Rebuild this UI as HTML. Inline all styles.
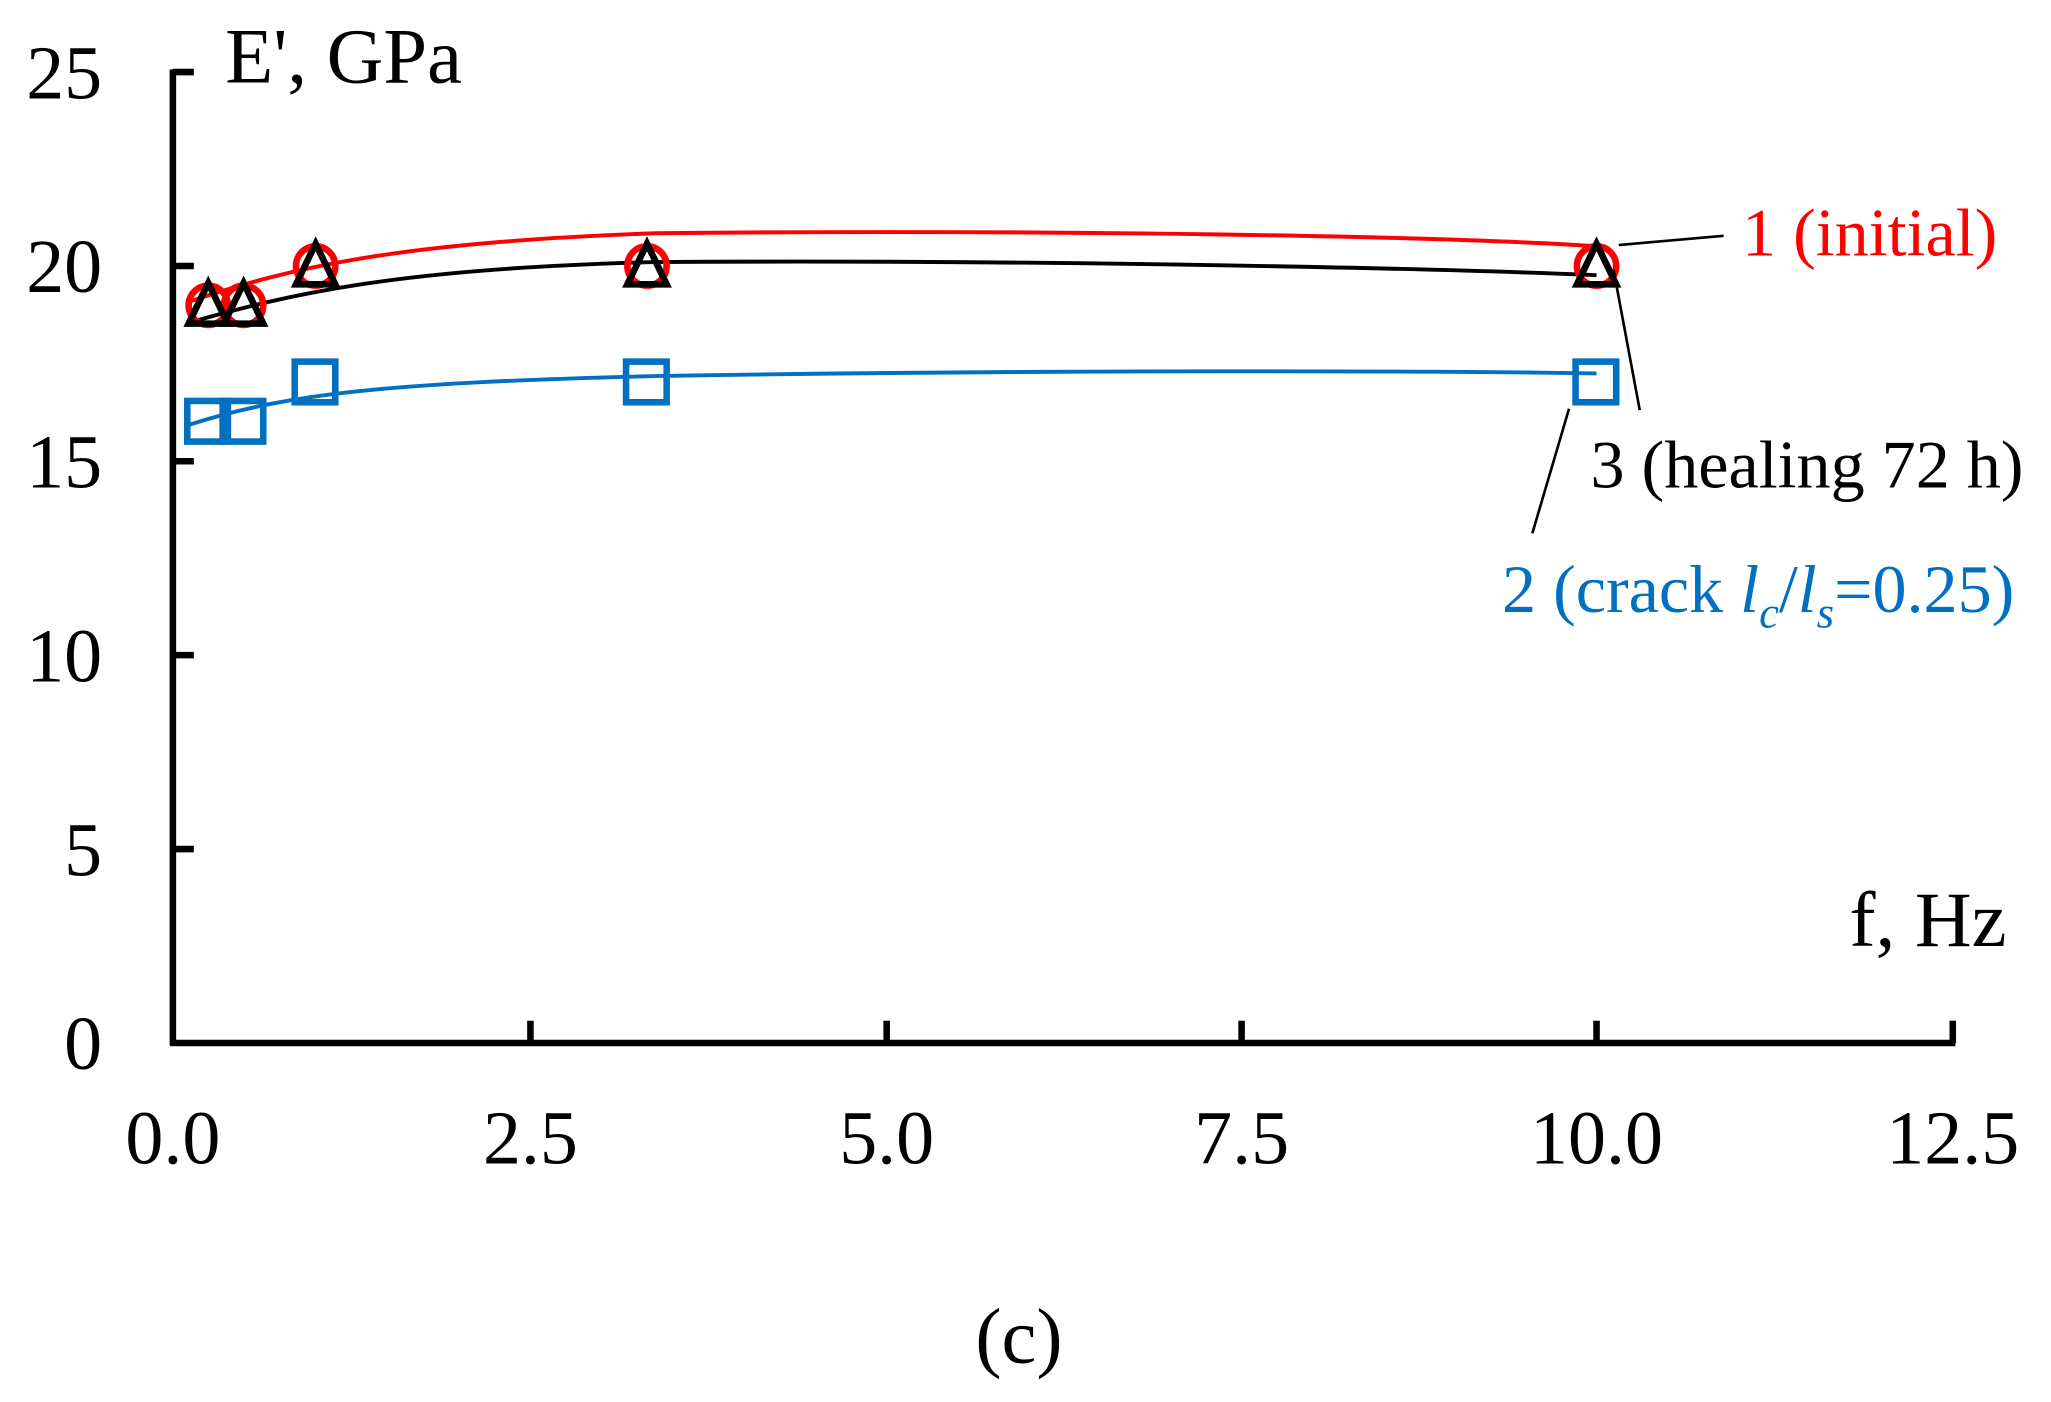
<!DOCTYPE html>
<html><head><meta charset="utf-8"><style>html,body{margin:0;padding:0;background:#fff}svg{display:block}</style></head>
<body>
<svg width="2051" height="1402" viewBox="0 0 1566 1070" preserveAspectRatio="none" xmlns="http://www.w3.org/2000/svg" font-family="Liberation Serif, serif">
<g stroke="#000" stroke-width="5" fill="none">
<line x1="132" y1="53" x2="132" y2="798"/>
<line x1="130" y1="796" x2="1493" y2="796"/>
<line x1="132" y1="55" x2="148" y2="55"/>
<line x1="132" y1="203" x2="148" y2="203"/>
<line x1="132" y1="352" x2="148" y2="352"/>
<line x1="132" y1="500" x2="148" y2="500"/>
<line x1="132" y1="648" x2="148" y2="648"/>
<line x1="405" y1="796" x2="405" y2="779"/>
<line x1="677" y1="796" x2="677" y2="779"/>
<line x1="948" y1="796" x2="948" y2="779"/>
<line x1="1219" y1="796" x2="1219" y2="779"/>
<line x1="1491" y1="796" x2="1491" y2="779"/>
</g>
<g font-size="58" text-anchor="end" fill="#000">
<text x="78" y="75">25</text><text x="78" y="223">20</text><text x="78" y="372">15</text>
<text x="78" y="520">10</text><text x="78" y="668">5</text><text x="78" y="816">0</text>
</g>
<g font-size="58" text-anchor="middle" fill="#000">
<text x="132" y="888">0.0</text><text x="405" y="888">2.5</text><text x="677" y="888">5.0</text>
<text x="948" y="888">7.5</text><text x="1219" y="888">10.0</text><text x="1491" y="888">12.5</text>
<text x="778" y="1040" font-size="60">(c)</text>
</g>
<text x="172" y="63" font-size="60">E', GPa</text>
<text x="1532" y="722" font-size="60" text-anchor="end">f, Hz</text>
<path d="M145,230 C220,205 300,185 500,178 C800,175 1100,180 1219,188" stroke="#f00" stroke-width="3" fill="none"/>
<path d="M145,246 C220,225 300,205 500,200 C800,198 1100,205 1219,210" stroke="#000" stroke-width="3" fill="none"/>
<path d="M145,324 C220,300 300,292 500,287 C800,282 1100,283 1219,285" stroke="#0070c0" stroke-width="3" fill="none"/>
<g stroke="#f00" stroke-width="5" fill="none">
<circle cx="159" cy="233" r="15"/><circle cx="186" cy="233" r="15"/><circle cx="241" cy="203" r="15"/><circle cx="494" cy="203" r="15"/><circle cx="1219" cy="203" r="15"/>
</g>
<g stroke="#000" stroke-width="5" fill="none">
<path d="M159,216 L174,247 L144,247Z"/><path d="M186,216 L201,247 L171,247Z"/><path d="M241,186 L256,217 L226,217Z"/><path d="M494,186 L509,217 L479,217Z"/><path d="M1219,186 L1234,217 L1204,217Z"/>
</g>
<g stroke="#0070c0" stroke-width="5" fill="none">
<rect x="143" y="306" width="31" height="31"/><rect x="170" y="306" width="31" height="31"/><rect x="225" y="276" width="31" height="31"/><rect x="478" y="276" width="31" height="31"/><rect x="1203" y="276" width="31" height="31"/>
</g>
<g stroke="#000" stroke-width="2">
<line x1="1236" y1="187" x2="1316" y2="180"/>
<line x1="1232" y1="206" x2="1252" y2="313"/>
<line x1="1198" y1="312" x2="1170" y2="407"/>
</g>
<text x="1525" y="195" font-size="52" fill="#f00" text-anchor="end">1 (initial)</text>
<text x="1545" y="372" font-size="52" fill="#000" text-anchor="end">3 (healing 72 h)</text>
<text x="1538" y="467" font-size="52" fill="#0070c0" text-anchor="end">2 (crack <tspan font-style="italic">l</tspan><tspan font-style="italic" font-size="34" dy="12">c</tspan><tspan dy="-12">/</tspan><tspan font-style="italic">l</tspan><tspan font-style="italic" font-size="34" dy="12">s</tspan><tspan dy="-12">=0.25)</tspan></text>
</svg>
</body></html>
